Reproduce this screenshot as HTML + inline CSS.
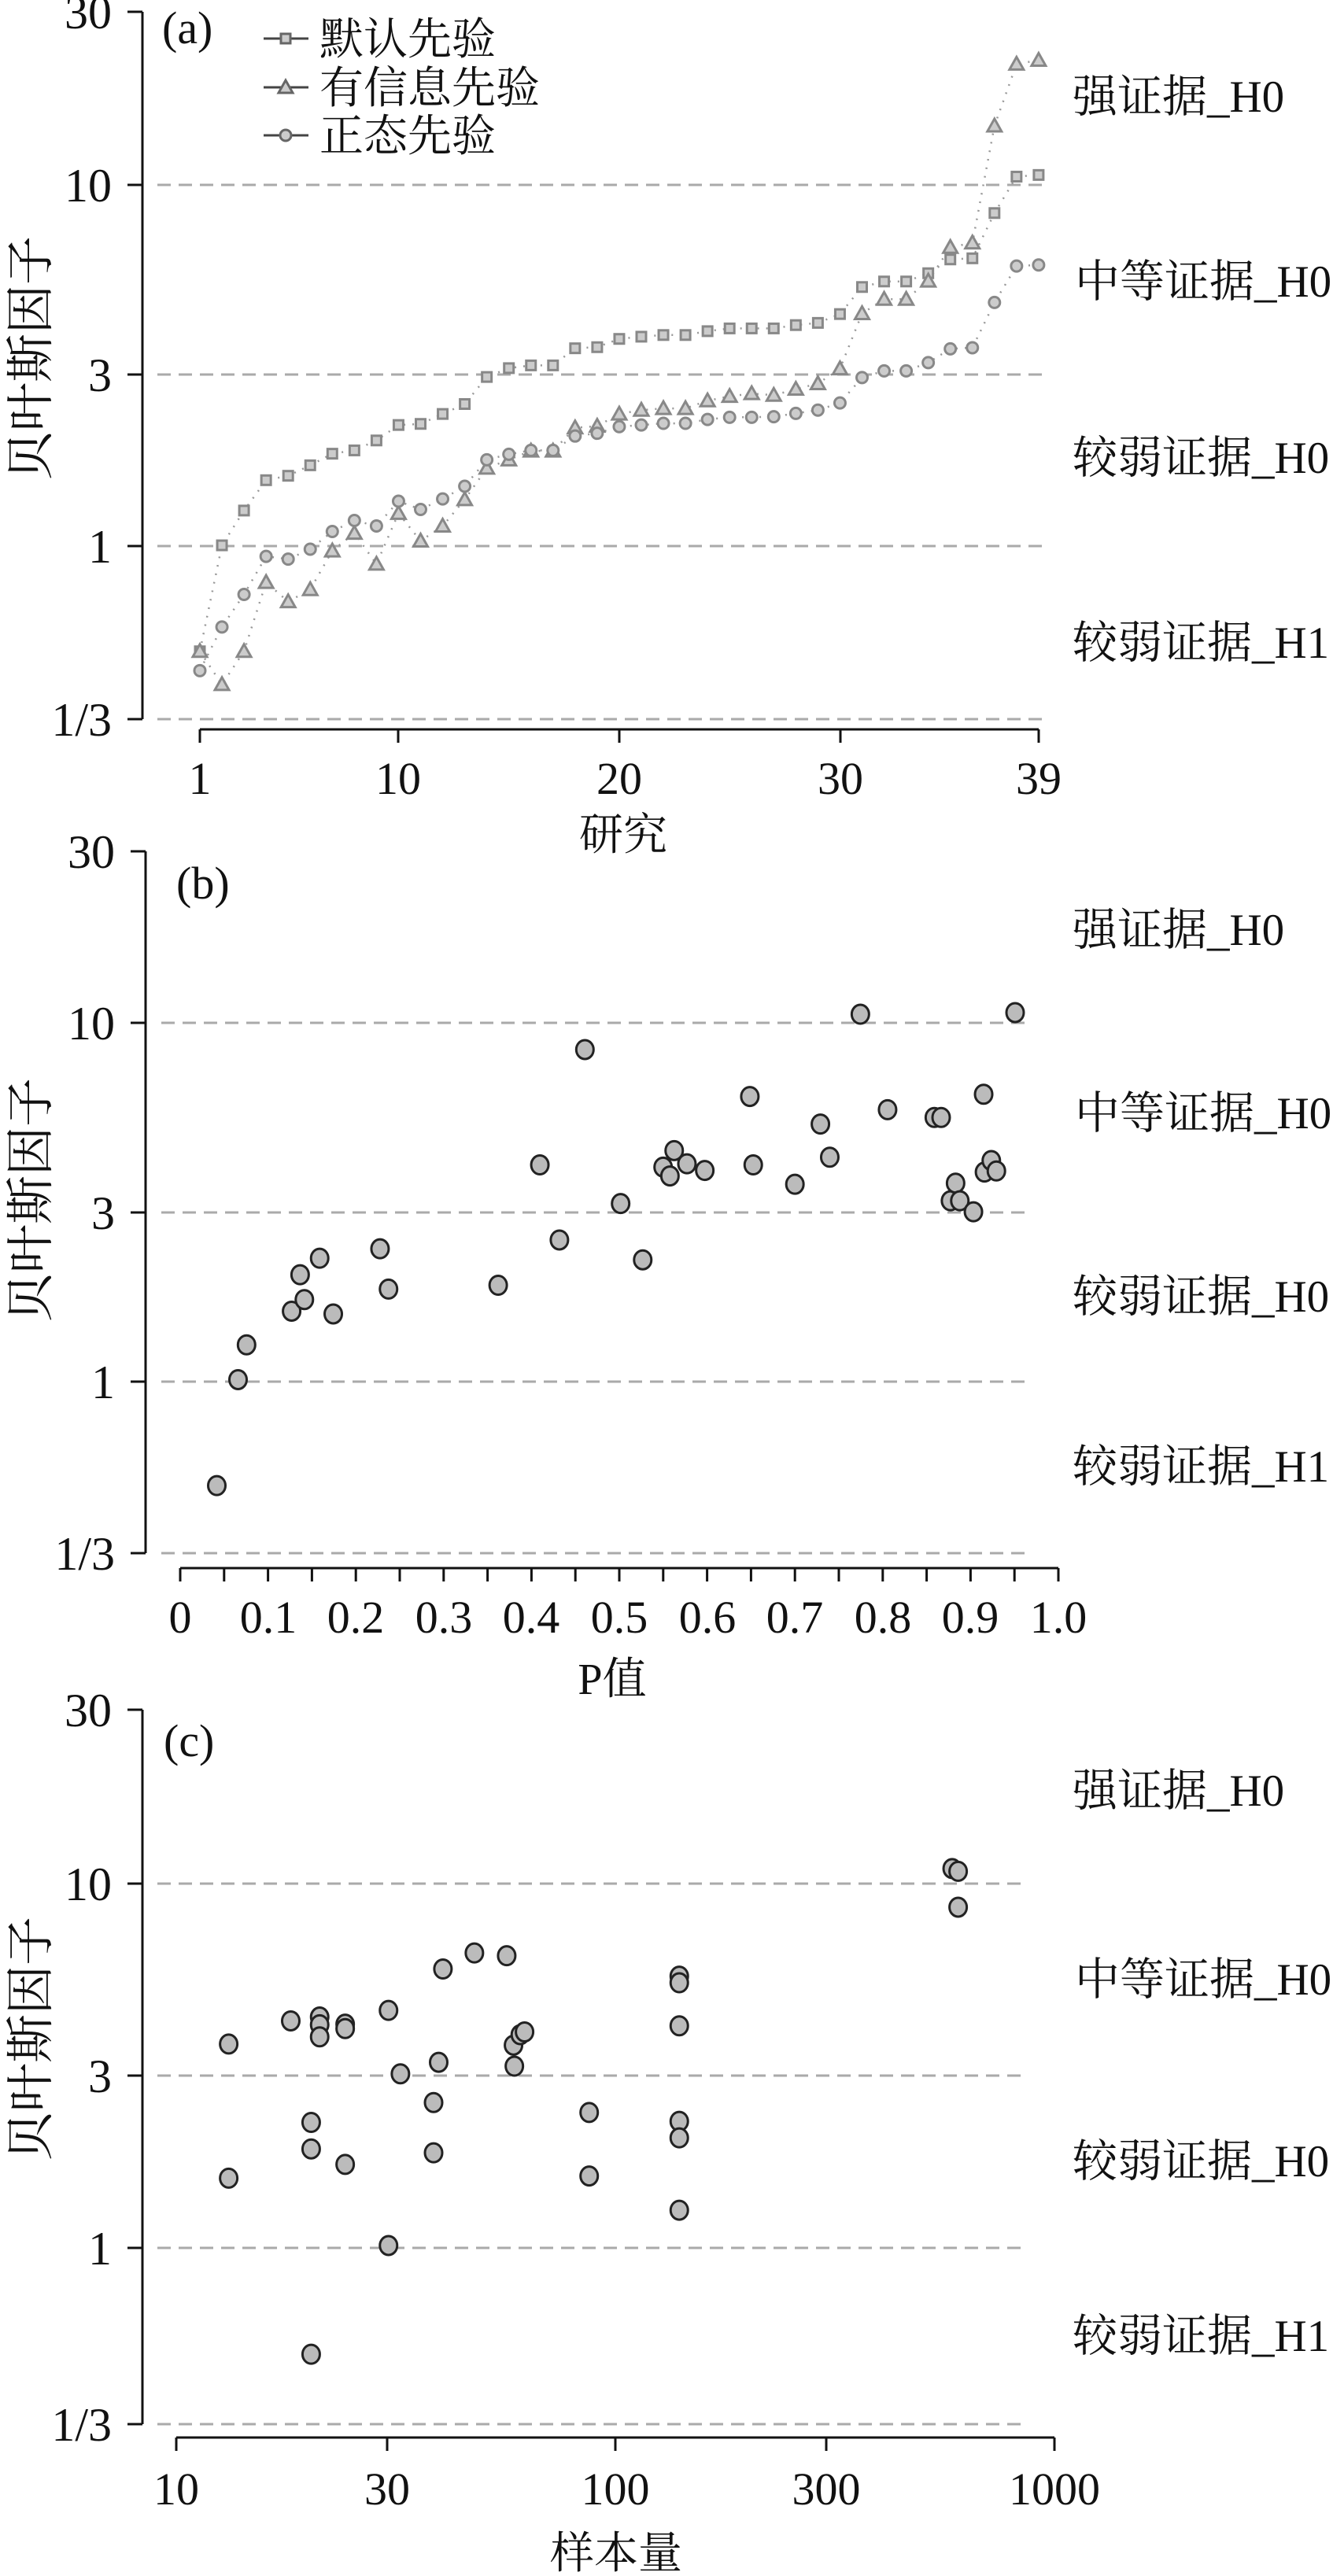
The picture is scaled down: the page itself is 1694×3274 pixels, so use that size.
<!DOCTYPE html>
<html><head><meta charset="utf-8"><style>
html,body{margin:0;padding:0;background:#fff}
svg text{font-family:"Liberation Serif","Noto Serif CJK SC",serif;fill:#111}
</style></head><body>
<svg id="s" width="1694" height="3269" viewBox="0 0 1694 3269" xmlns="http://www.w3.org/2000/svg">
<g id="grid" stroke="#aaa" stroke-width="3" stroke-dasharray="17 10" fill="none">
<line x1="200" y1="235" x2="1330" y2="235"/><line x1="200" y1="476" x2="1330" y2="476"/><line x1="200" y1="694" x2="1330" y2="694"/><line x1="200" y1="914" x2="1330" y2="914"/>
<line x1="205" y1="1300" x2="1310" y2="1300"/><line x1="205" y1="1541" x2="1310" y2="1541"/><line x1="205" y1="1756" x2="1310" y2="1756"/><line x1="205" y1="1974" x2="1310" y2="1974"/>
<line x1="200" y1="2394" x2="1305" y2="2394"/><line x1="200" y1="2638" x2="1305" y2="2638"/><line x1="200" y1="2857" x2="1305" y2="2857"/><line x1="200" y1="3081" x2="1305" y2="3081"/>
</g>
<g stroke="#111" stroke-width="3" fill="none">
<line x1="181" y1="15" x2="181" y2="914"/>
<line x1="162" y1="15" x2="181" y2="15"/><line x1="162" y1="235" x2="181" y2="235"/><line x1="162" y1="476" x2="181" y2="476"/><line x1="162" y1="694" x2="181" y2="694"/><line x1="162" y1="914" x2="181" y2="914"/>
<line x1="254" y1="927" x2="1320" y2="927"/>
<line x1="254" y1="927" x2="254" y2="944"/><line x1="506" y1="927" x2="506" y2="944"/><line x1="787" y1="927" x2="787" y2="944"/><line x1="1068" y1="927" x2="1068" y2="944"/><line x1="1320" y1="927" x2="1320" y2="944"/>
<line x1="185" y1="1082" x2="185" y2="1974"/>
<line x1="166" y1="1082" x2="185" y2="1082"/><line x1="166" y1="1300" x2="185" y2="1300"/><line x1="166" y1="1541" x2="185" y2="1541"/><line x1="166" y1="1756" x2="185" y2="1756"/><line x1="166" y1="1974" x2="185" y2="1974"/>
<line x1="229" y1="1993" x2="1345" y2="1993"/>
<g id="pt"></g>
<line x1="181" y1="2173" x2="181" y2="3081"/>
<line x1="162" y1="2173" x2="181" y2="2173"/><line x1="162" y1="2394" x2="181" y2="2394"/><line x1="162" y1="2638" x2="181" y2="2638"/><line x1="162" y1="2857" x2="181" y2="2857"/><line x1="162" y1="3081" x2="181" y2="3081"/>
<line x1="224" y1="3098" x2="1340" y2="3098"/>
<line x1="224" y1="3098" x2="224" y2="3115"/><line x1="492" y1="3098" x2="492" y2="3115"/><line x1="782" y1="3098" x2="782" y2="3115"/><line x1="1050" y1="3098" x2="1050" y2="3115"/><line x1="1340" y1="3098" x2="1340" y2="3115"/>
</g>
<g id="marks"></g>
<g font-size="60" text-anchor="end">
<text x="142" y="36">30</text><text x="142" y="256">10</text><text x="142" y="497">3</text><text x="142" y="715">1</text><text x="142" y="935">1/3</text>
<text x="146" y="1103">30</text><text x="146" y="1321">10</text><text x="146" y="1562">3</text><text x="146" y="1777">1</text><text x="146" y="1995">1/3</text>
<text x="142" y="2194">30</text><text x="142" y="2415">10</text><text x="142" y="2659">3</text><text x="142" y="2878">1</text><text x="142" y="3102">1/3</text>
</g>
<g font-size="58" text-anchor="middle">
<text x="254" y="1009">1</text><text x="506" y="1009">10</text><text x="787" y="1009">20</text><text x="1068" y="1009">30</text><text x="1320" y="1009">39</text>
<text x="229" y="2075">0</text><text x="341" y="2075">0.1</text><text x="452" y="2075">0.2</text><text x="564" y="2075">0.3</text><text x="675" y="2075">0.4</text><text x="787" y="2075">0.5</text><text x="899" y="2075">0.6</text><text x="1010" y="2075">0.7</text><text x="1122" y="2075">0.8</text><text x="1233" y="2075">0.9</text><text x="1345" y="2075">1.0</text>
<text x="224" y="3183">10</text><text x="492" y="3183">30</text><text x="782" y="3183">100</text><text x="1050" y="3183">300</text><text x="1340" y="3183">1000</text>
</g>
<g font-size="56" text-anchor="middle">
<text x="792" y="1080">研究</text><text x="778" y="2153">P值</text><text x="783" y="3264">样本量</text>
</g>
<g font-size="62" text-anchor="middle">
<text transform="translate(60,455) rotate(-90)">贝叶斯因子</text>
<text transform="translate(60,1525) rotate(-90)">贝叶斯因子</text>
<text transform="translate(60,2591) rotate(-90)">贝叶斯因子</text>
</g>
<g font-size="58">
<text x="206" y="55">(a)</text><text x="224" y="1142">(b)</text><text x="208" y="2232">(c)</text>
</g>
<g font-size="57">
<text x="1363" y="142">强证据_H0</text><text x="1366" y="377">中等证据_H0</text><text x="1363" y="601">较弱证据_H0</text><text x="1363" y="836">较弱证据_H1</text>
<text x="1363" y="1201">强证据_H0</text><text x="1366" y="1434">中等证据_H0</text><text x="1363" y="1667">较弱证据_H0</text><text x="1363" y="1883">较弱证据_H1</text>
<text x="1363" y="2295">强证据_H0</text><text x="1366" y="2535">中等证据_H0</text><text x="1363" y="2766">较弱证据_H0</text><text x="1363" y="2988">较弱证据_H1</text>
</g>
<g font-size="56">
<text x="406" y="69">默认先验</text><text x="406" y="131">有信息先验</text><text x="406" y="192">正态先验</text>
</g>
</svg>
<script>
var NS="http://www.w3.org/2000/svg",M=document.getElementById("marks"),P=document.getElementById("pt");
function el(t,a,p){var e=document.createElementNS(NS,t);for(var k in a)e.setAttribute(k,a[k]);(p||M).appendChild(e);return e;}
for(var i=0;i<=20;i++){var x=229+i*55.8;el("line",{x1:x,y1:1993,x2:x,y2:2010},P);}
var sq=[1180,988,925,870,862,843,822,816,798,770,768,750,732,683,667,662,662,631,629,614,610,607,607,600,595,595,595,589,585,569,520,510,510,495,470,468,386,320,317];
var tr=[1180,1240,1180,1055,1090,1068,998,966,1022,930,980,953,905,848,833,817,817,775,772,750,743,740,740,726,718,713,716,705,695,668,568,542,542,509,448,440,228,116,109];
var ci=[1215,1136,1077,1008,1013,995,963,943,953,908,923,904,881,833,823,816,816,790,785,773,770,767,767,760,756,756,755,749,743,730,684,672,672,657,632,630,548,482,480];
function X(i){return 254+i*28.05;}
[sq,tr,ci].forEach(function(a){var pts=a.map(function(v,i){return X(i)+","+(v*0.7015).toFixed(1)}).join(" ");
el("polyline",{points:pts,fill:"none",stroke:"#999","stroke-width":2.5,"stroke-dasharray":"2 9"});});
function sqm(x,y,c){el("rect",{x:x-6,y:y-6,width:12,height:12,fill:"#ccc",stroke:c||"#888","stroke-width":3});}
function trm(x,y,c){el("polygon",{points:(x)+","+(y-9)+" "+(x-9)+","+(y+7)+" "+(x+9)+","+(y+7),fill:"#ccc",stroke:c||"#888","stroke-width":3});}
function cim(x,y,c){el("circle",{cx:x,cy:y,r:7,fill:"#ccc",stroke:c||"#888","stroke-width":3});}
sq.forEach(function(v,i){sqm(X(i),v*0.7015)});tr.forEach(function(v,i){trm(X(i),v*0.7015)});ci.forEach(function(v,i){cim(X(i),v*0.7015)});
[[49,sqm],[111,trm],[172,cim]].forEach(function(r){el("line",{x1:335,y1:r[0],x2:392,y2:r[0],stroke:"#444","stroke-width":3});r[1](363,r[0],"#666");});
var b=[[255,1152],[280,960],[290,897],[343,836],[358,815],[353,770],[376,740],[392,841],[447,723],[457,796],[586,789],[635,571],[658,707],[688,362],[730,641],[756,743],[780,575],[788,591],[793,545],[808,569],[829,581],[882,447],[886,571],[935,606],[965,497],[976,557],[1012,298],[1044,471],[1099,485],[1107,485],[1118,636],[1124,604],[1129,636],[1145,656],[1157,443],[1158,584],[1166,563],[1172,582],[1194,295]];
b.forEach(function(p){el("ellipse",{cx:p[0]*1.0804,cy:1080+p[1]*0.7015,rx:11,ry:12,fill:"#bbb",stroke:"#222","stroke-width":3});});
var c=[[269,610],[269,853],[342,568],[366,752],[366,800],[366,1172],[376,561],[376,575],[376,597],[406,574],[406,582],[406,828],[457,549],[457,975],[471,664],[510,716],[510,807],[516,643],[521,474],[558,445],[596,450],[604,612],[605,650],[612,593],[617,588],[693,734],[693,849],[799,487],[799,499],[799,577],[799,750],[799,780],[799,911],[1120,292],[1127,297],[1127,362]];
c.forEach(function(p){el("ellipse",{cx:p[0]*1.0804,cy:2170+p[1]*0.7015,rx:11,ry:12,fill:"#bbb",stroke:"#222","stroke-width":3});});
</script>
</body></html>
